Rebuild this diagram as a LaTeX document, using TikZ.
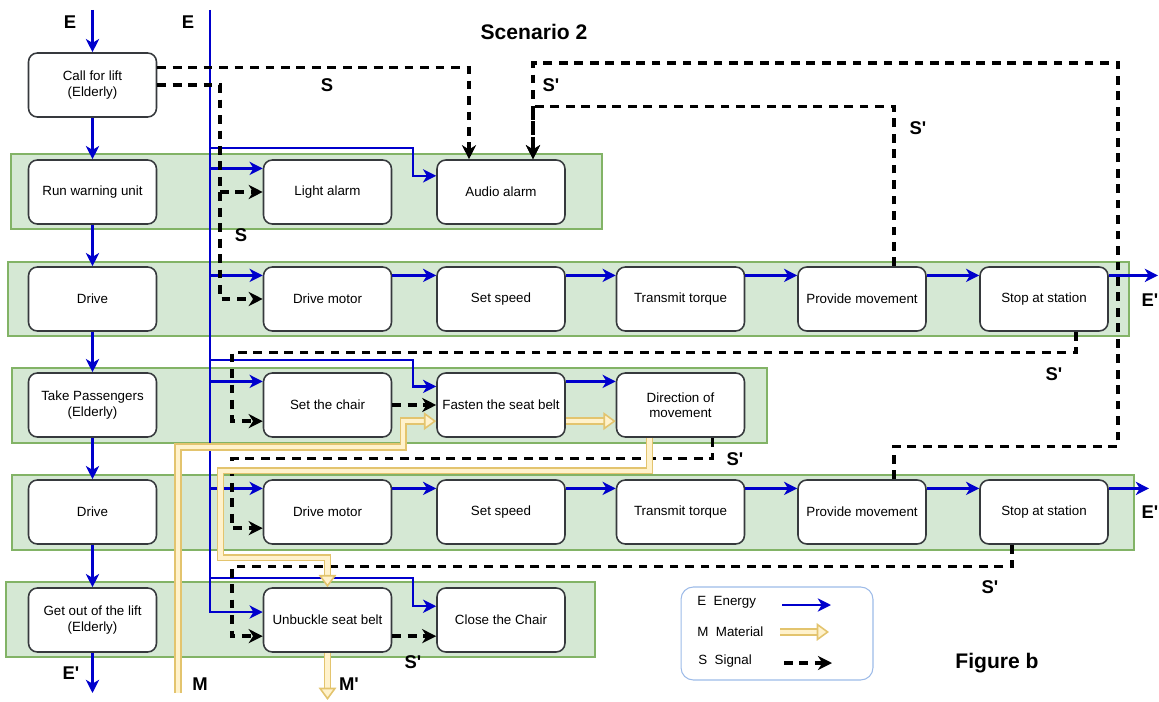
\documentclass[tikz,border=0pt]{standalone}
\usepackage{fontspec}
\setmainfont{Liberation Sans}
\usetikzlibrary{arrows.meta}

\definecolor{bandfill}{HTML}{D5E8D4}
\definecolor{bandline}{HTML}{82B366}
\definecolor{energyblue}{HTML}{0000CC}
\definecolor{matline}{HTML}{E3C46E}
\definecolor{matfill}{HTML}{FFF2CC}
\definecolor{boxline}{HTML}{36393D}
\definecolor{legline}{HTML}{9DBBE8}

\newcommand{\Sp}{S\textquotesingle}
\newcommand{\Ep}{E\textquotesingle}
\newcommand{\Mp}{M\textquotesingle}

\begin{document}
\begin{tikzpicture}[x=0.02cm,y=-0.02cm]
	\tikzstyle{band}=[draw=bandline,fill=bandfill,line width=0.6pt]
	\tikzstyle{func}=[draw=boxline,fill=white,rounded corners=5pt,line width=0.9pt,minimum width=2.56cm,minimum height=1.28cm,inner sep=1pt,align=center,font=\fontsize{7.6}{8.8}\selectfont]
	\tikzstyle{flowlabel}=[inner sep=0pt,font=\fontsize{10.5}{12}\selectfont\bfseries]
	\tikzstyle{legtext}=[anchor=west,inner sep=0pt,font=\fontsize{7.6}{8.8}\selectfont]
	\tikzstyle{energyflow}=[draw=energyblue,line width=1.4pt,-{Stealth[length=7.5pt,width=7.5pt,inset=2.2pt]}]
	\tikzstyle{signalflow}=[draw=black,line width=1.9pt,dash pattern=on 5pt off 3.8pt,-{Stealth[length=8pt,width=8pt,inset=2.5pt]}]
	\tikzstyle{materialflow}=[draw=matline,line width=0.9pt,double=matfill,double distance=2.4pt,-{Triangle[open,fill=matfill,length=7pt,width=10pt]}]

	\useasboundingbox (0,0) rectangle (1159,702);

	% rows
	\draw[band] (11,154) rectangle (602,229);
	\draw[band] (8,262) rectangle (1129,336);
	\draw[band] (12,368) rectangle (767,443);
	\draw[band] (12,475) rectangle (1134,550);
	\draw[band] (6,582) rectangle (595,657);

	\node (call) at (92.5,85) [func] {Call for lift\\(Elderly)};
	\node (warn) at (92.5,192) [func] {Run warning unit};
	\node (drivea) at (92.5,299) [func] {Drive};
	\node (take) at (92.5,405) [func] {Take Passengers\\(Elderly)};
	\node (driveb) at (92.5,512) [func] {Drive};
	\node (getout) at (92.5,620) [func] {Get out of the lift\\(Elderly)};

	\node (light) at (327.5,192) [func] {Light alarm};
	\node (audio) at (501,192) [func] {Audio alarm};

	\node (motora) at (327.5,299) [func] {Drive motor};
	\node (speeda) at (501,299) [func] {Set speed};
	\node (torquea) at (680.5,299) [func] {Transmit torque};
	\node (movea) at (862,299) [func] {Provide movement};
	\node (stopa) at (1044,299) [func] {Stop at station};

	\node (chair) at (327.5,405) [func] {Set the chair};
	\node (fasten) at (501,405) [func] {Fasten the seat belt};
	\node (direction) at (680.5,405) [func] {Direction of\\movement};

	\node (motorb) at (327.5,512) [func] {Drive motor};
	\node (speedb) at (501,512) [func] {Set speed};
	\node (torqueb) at (680.5,512) [func] {Transmit torque};
	\node (moveb) at (862,512) [func] {Provide movement};
	\node (stopb) at (1044,512) [func] {Stop at station};

	\node (unbuckle) at (327.5,620) [func] {Unbuckle seat belt};
	\node (close) at (501,620) [func] {Close the Chair};

	\coordinate (etop) at (92.5,10);
	\coordinate (ebottom) at (92.5,693);
	\coordinate (ebus) at (210,10);
	\coordinate (tapaudio) at (210,148);
	\coordinate (tapfasten) at (210,360);
	\coordinate (tapclose) at (210,578);
	\coordinate (eouta) at (1158,0);
	\coordinate (eoutb) at (1149,0);
	\coordinate (sbusa) at (220,0);
	\coordinate (sbusb) at (232,0);
	\coordinate (sloop) at (1118,63);
	\coordinate (min) at (178,693);
	\coordinate (mout) at (327.5,700);

	% energy
	\draw[energyflow] (etop) -- (call);
	\foreach \a/\b in {call/warn,warn/drivea,drivea/take,take/driveb,driveb/getout}
		\draw[energyflow] (\a) -- (\b);
	\draw[energyflow] (getout) -- (ebottom);
	\foreach \a/\b in {motora/speeda,speeda/torquea,torquea/movea,movea/stopa,motorb/speedb,speedb/torqueb,torqueb/moveb,moveb/stopb,fasten/direction}
		\draw[energyflow] (\a.20) -- (\b.160);
	\draw[energyflow] (stopa.20) -- (stopa.20 -| eouta);
	\draw[energyflow] (stopb.20) -- (stopb.20 -| eoutb);
	\draw[energyflow] (ebus) |- (unbuckle.173);
	\foreach \n in {light,motora,chair,motorb}
		\draw[energyflow] (ebus |- \n.160) -- (\n.160);
	\draw[energyflow] (tapaudio) -- ++(203,0) |- (audio.166);
	\draw[energyflow] (tapfasten) -- ++(203,0) |- (fasten.164);
	\draw[energyflow] (tapclose) -- ++(203,0) |- (close.168);

	% signals
	\draw[signalflow] (call.15) -| ([xshift=-0.64cm]audio.north);
	\draw[signalflow] (call.east) -| (sbusa |- motora.west) -- (motora.west);
	\draw[signalflow] (sbusa |- light.west) -- (light.west);
	\draw[signalflow] ([xshift=0.64cm]movea.north) -- ++(0,-160) -| ([xshift=0.64cm]audio.north);
	\draw[signalflow] ([xshift=0.64cm]moveb.north) -- ++(0,-33) -| (sloop) -| ([xshift=0.64cm]audio.north);
	\draw[signalflow] ([xshift=0.64cm]stopa.south) -- ++(0,21) -| (sbusb |- chair.194) -- (chair.194);
	\draw[signalflow] ([xshift=0.64cm]direction.south) -- ++(0,21) -| (sbusb |- motorb.194) -- (motorb.194);
	\draw[signalflow] ([xshift=-0.64cm]stopb.south) -- ++(0,22) -| (sbusb |- unbuckle.194) -- (unbuckle.194);
	\draw[signalflow] (chair) -- (fasten);
	\draw[signalflow] (unbuckle.346) -- (close.194);

	% material
	\draw[materialflow] (min) -- ++(0,-246) -| ([xshift=-0.66cm]fasten.194) -- (fasten.194);
	\draw[materialflow] (fasten.346) -- (direction.194);
	\draw[materialflow] ([xshift=-0.62cm]direction.south) -- ++(0,33) -- ++(-429,0) -- ++(0,87) -| (unbuckle.north);
	\draw[materialflow] (unbuckle) -- (mout);

	% labels
	\node (etopl) at (70,22) [flowlabel] {E};
	\node (ebusl) at (188,22) [flowlabel] {E};
	\node (ebotl) at (71,673) [flowlabel] {\Ep};
	\node (eoutal) at (1150,300) [flowlabel] {\Ep};
	\node (eoutbl) at (1150,512) [flowlabel] {\Ep};
	\node (sl1) at (327,85) [flowlabel] {S};
	\node (sl2) at (241,235) [flowlabel] {S};
	\node (spl1) at (551,85) [flowlabel] {\Sp};
	\node (spl2) at (918,128) [flowlabel] {\Sp};
	\node (spl3) at (1054,374) [flowlabel] {\Sp};
	\node (spl4) at (735,459) [flowlabel] {\Sp};
	\node (spl5) at (990,587) [flowlabel] {\Sp};
	\node (spl6) at (413,662) [flowlabel] {\Sp};
	\node (ml) at (200,684) [flowlabel] {M};
	\node (mpl) at (349,684) [flowlabel] {\Mp};

	\node (title) at (534,32) [font=\fontsize{12}{14}\selectfont\bfseries] {Scenario 2};
	\node (figlabel) at (997,663) [font=\fontsize{12}{14}\selectfont\bfseries] {Figure b};

	% legend
	\node (legend) at (777,633.5) [draw=legline,rounded corners=7pt,line width=0.6pt,minimum width=3.84cm,minimum height=1.86cm] {};
	\node (lege) at (697,602) [legtext] {E\ \ Energy};
	\node (legm) at (697,632) [legtext] {M\ \ Material};
	\node (legs) at (698,661) [legtext] {S\ \ Signal};
	\coordinate (lege1) at (782,605);
	\coordinate (lege2) at (831,605);
	\coordinate (legm1) at (780,632);
	\coordinate (legm2) at (829,632);
	\coordinate (legs1) at (784,663);
	\coordinate (legs2) at (832,663);
	\draw[energyflow] (lege1) -- (lege2);
	\draw[materialflow] (legm1) -- (legm2);
	\draw[signalflow] (legs1) -- (legs2);
\end{tikzpicture}
\end{document}
